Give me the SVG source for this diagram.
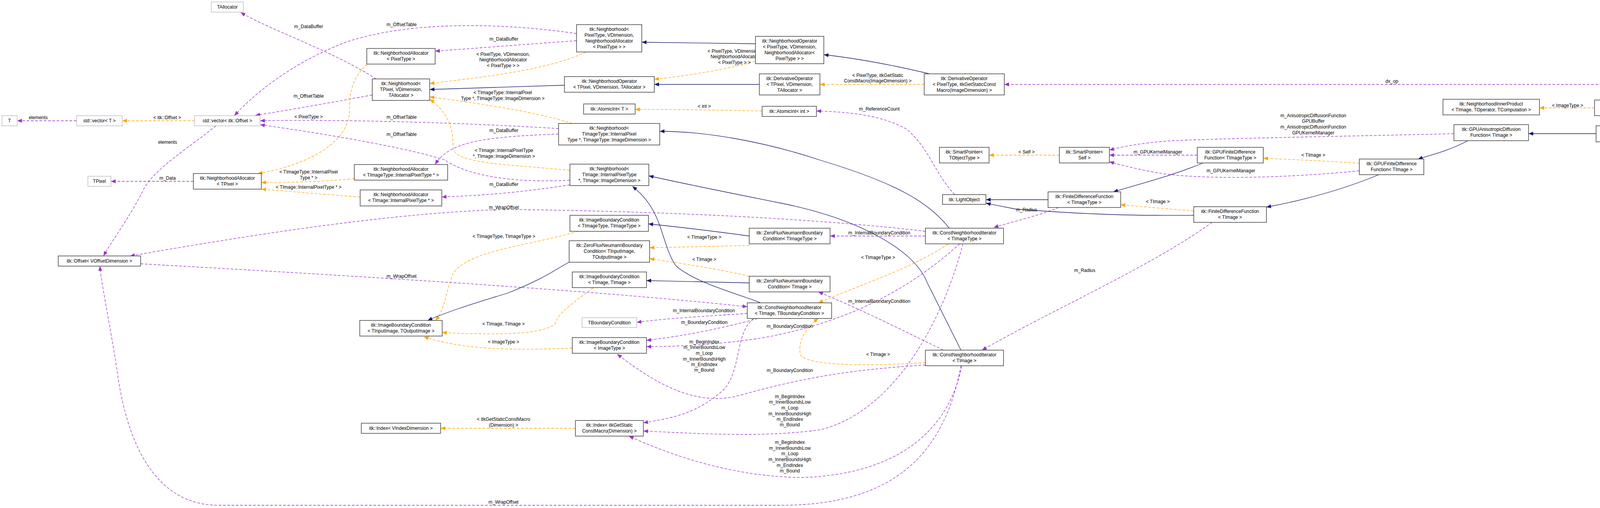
<svg xmlns="http://www.w3.org/2000/svg" width="4639" height="1300" viewBox="0 0 4639 1300">
<style>
text{font-family:"Liberation Sans",Arial,sans-serif;font-size:12px;fill:#000;text-anchor:middle}
.n rect{fill:#fff;stroke:#404040;stroke-width:1.5}
.g rect{fill:#fff;stroke:#bfbfbf;stroke-width:1.5}
.h rect{fill:#bfbfbf;stroke:#404040;stroke-width:1.5}
.e path{fill:none;stroke-width:1.3}
.u{stroke:#9a32cd;stroke-dasharray:7,4;marker-end:url(#mu)}
.t{stroke:#ffa500;stroke-dasharray:7,4;marker-end:url(#mt)}
.i{stroke:#191970;marker-end:url(#mi)}
</style>
<defs>
<marker id="mu" markerUnits="userSpaceOnUse" markerWidth="12" markerHeight="10" refX="12" refY="5" orient="auto"><path d="M0,0L12,5L0,10z" fill="#9a32cd"/></marker>
<marker id="mt" markerUnits="userSpaceOnUse" markerWidth="12" markerHeight="10" refX="12" refY="5" orient="auto"><path d="M0,0L12,5L0,10z" fill="#ffa500"/></marker>
<marker id="mi" markerUnits="userSpaceOnUse" markerWidth="12" markerHeight="10" refX="12" refY="5" orient="auto"><path d="M0,0L12,5L0,10z" fill="#191970"/></marker>
</defs>
<rect width="4639" height="1300" fill="#fff"/>
<g id="edges" class="e">
<path class="u" d="M963,202 C850,130 700,80 616,32"/>
<path class="u" d="M953,243 C850,262 750,280 654,295"/>
<path class="u" d="M1476,86 C1300,60 1050,50 880,110 C750,160 650,240 600,296"/>
<path class="u" d="M1476,104 L1114,131"/>
<path class="u" d="M1430,329 C1200,315 900,305 666,309"/>
<path class="u" d="M1459,461 C1300,470 1190,445 1140,410 C1050,380 850,345 666,319"/>
<path class="u" d="M1430,343 C1250,350 1150,360 1114,421"/>
<path class="u" d="M1459,473 C1350,490 1250,500 1131,504"/>
<path class="u" d="M495,464 L284,464"/>
<path class="u" d="M553,322 C480,380 400,430 370,480 C330,560 290,610 265,655"/>
<path class="u" d="M196,309 L44,309"/>
<path class="u" d="M2369,592 C2100,560 1700,540 1290,536 C1000,545 650,600 333,655"/>
<path class="u" d="M360,675 C800,700 1500,740 1913,785"/>
<path class="u" d="M2460,936 C2420,1150 2300,1293 2000,1293 L560,1293 C380,1293 320,1100 300,950 C280,820 258,720 256,681"/>
<path class="u" d="M2369,604 L2125,604"/>
<path class="u" d="M2415,896 C2300,840 2200,790 2095,747"/>
<path class="u" d="M1913,802 C1800,810 1700,815 1630,825"/>
<path class="u" d="M1940,815 C1850,840 1750,860 1655,871"/>
<path class="u" d="M2457,624 C2350,720 2200,820 1950,865 C1850,880 1750,887 1655,887"/>
<path class="u" d="M2369,934 C2200,945 2080,960 1900,1010 C1800,1040 1700,1000 1580,906"/>
<path class="u" d="M1930,815 C1880,850 1900,950 1850,1000 C1780,1060 1720,1070 1647,1082"/>
<path class="u" d="M2465,624 C2420,800 2300,1050 2100,1100 C1950,1120 1800,1110 1647,1103"/>
<path class="u" d="M2462,936 C2430,1100 2300,1215 2050,1222 C1900,1220 1750,1180 1610,1116"/>
<path class="u" d="M2444,498 C2390,440 2380,380 2320,330 C2250,290 2150,286 2090,284"/>
<path class="u" d="M2710,531 C2650,555 2600,565 2544,582"/>
<path class="u" d="M3103,569 C2950,680 2700,790 2514,896"/>
<path class="u" d="M3065,397 L2840,397"/>
<path class="u" d="M3480,437 C3300,455 3100,460 2980,445 C2920,435 2880,425 2840,414"/>
<path class="u" d="M3722,342 C3500,348 3200,352 3000,360 C2920,366 2880,374 2840,384"/>
<path class="u" d="M4470,256 C4420,235 4380,216 4300,216 L2571,216"/>
<path class="u" d="M4427,276 L4281,276"/>
<path class="t" d="M498,309 L313,309"/>
<path class="t" d="M940,164 C900,200 895,240 895,280 C895,360 800,420 660,444"/>
<path class="t" d="M907,457 C830,465 750,467 669,467"/>
<path class="t" d="M922,504 C830,498 750,490 669,484"/>
<path class="t" d="M1500,133 C1400,180 1250,195 1100,214"/>
<path class="t" d="M1465,316 C1350,280 1200,262 1100,248"/>
<path class="t" d="M1459,436 C1300,420 1170,420 1160,380 C1160,330 1150,290 1100,254"/>
<path class="t" d="M1934,157 C1850,180 1750,195 1675,203"/>
<path class="t" d="M2366,216 L2099,216"/>
<path class="t" d="M1951,284 C1850,282 1750,280 1626,280"/>
<path class="t" d="M2712,397 L2532,397"/>
<path class="t" d="M3480,418 C3400,412 3300,408 3234,405"/>
<path class="t" d="M3056,540 C3000,535 2930,530 2869,524"/>
<path class="t" d="M4082,276 L3941,276"/>
<path class="t" d="M1480,592 C1350,630 1200,640 1160,700 C1140,750 1140,790 1115,820"/>
<path class="t" d="M1519,736 C1460,780 1430,800 1420,830 C1380,860 1250,856 1132,851"/>
<path class="t" d="M1465,891 C1350,895 1200,900 1085,862"/>
<path class="t" d="M1918,628 C1850,630 1750,632 1663,634"/>
<path class="t" d="M1918,707 C1850,690 1750,675 1663,662"/>
<path class="t" d="M2427,624 C2350,680 2200,730 2095,775"/>
<path class="t" d="M2369,928 C2250,935 2080,940 2050,910 C2040,880 2060,840 2095,815"/>
<path class="t" d="M1473,1096 L1128,1096"/>
<path class="i" d="M1934,112 L1643,108"/>
<path class="i" d="M1445,218 L1100,229"/>
<path class="i" d="M1944,216 L1675,216"/>
<path class="i" d="M2380,189 C2300,170 2200,150 2109,140"/>
<path class="i" d="M2430,584 C2380,520 2300,470 2100,410 C1950,360 1800,336 1689,336"/>
<path class="i" d="M2460,896 L2372,720 C2340,640 2200,560 2000,520 C1850,490 1750,470 1661,450"/>
<path class="i" d="M1947,775 C1900,755 1780,725 1730,680 C1690,620 1700,540 1619,477"/>
<path class="i" d="M1918,724 C1850,722 1750,720 1655,718"/>
<path class="i" d="M1918,604 C1830,592 1750,582 1660,573"/>
<path class="i" d="M1457,671 C1420,690 1400,710 1300,750 C1200,780 1140,800 1095,820"/>
<path class="i" d="M2683,511 L2524,511"/>
<path class="i" d="M3056,551 C2900,552 2800,550 2600,535 L2524,520"/>
<path class="i" d="M3080,417 C3000,450 2920,470 2850,491"/>
<path class="i" d="M3530,447 C3450,480 3350,510 3242,530"/>
<path class="i" d="M3758,360 C3710,385 3670,395 3630,407"/>
<path class="i" d="M4086,342 L3913,342"/>
<path class="i" d="M4427,296 C4380,305 4330,312 4278,322"/>
</g>
<g id="labels">
<text x="98" y="305">elements</text>
<text x="428" y="305">&lt; itk::Offset &gt;</text>
<text x="429" y="368">elements</text>
<text x="429" y="460">m_Data</text>
<text x="790" y="72">m_DataBuffer</text>
<text x="790" y="250">m_OffsetTable</text>
<text x="790" y="303">&lt; PixelType &gt;</text>
<text x="790" y="444">&lt; TImageType::InternalPixel</text>
<text x="790" y="459">Type * &gt;</text>
<text x="790" y="483">&lt; TImage::InternalPixelType * &gt;</text>
<text x="1028" y="67">m_OffsetTable</text>
<text x="1290" y="104">m_DataBuffer</text>
<text x="1288" y="143">&lt; PixelType, VDimension,</text>
<text x="1288" y="157">NeighborhoodAllocator</text>
<text x="1288" y="172">&lt; PixelType &gt; &gt;</text>
<text x="1287" y="241">&lt; TImageType::InternalPixel</text>
<text x="1287" y="256">Type *, TImageType::ImageDimension &gt;</text>
<text x="1028" y="304">m_OffsetTable</text>
<text x="1290" y="338">m_DataBuffer</text>
<text x="1028" y="348">m_OffsetTable</text>
<text x="1290" y="389">&lt; TImage::InternalPixelType</text>
<text x="1290" y="404">*, TImage::ImageDimension &gt;</text>
<text x="1290" y="476">m_DataBuffer</text>
<text x="1290" y="535">m_WrapOffset</text>
<text x="1290" y="609">&lt; TImageType, TImageType &gt;</text>
<text x="1880" y="135">&lt; PixelType, VDimension,</text>
<text x="1880" y="149">NeighborhoodAllocator</text>
<text x="1880" y="164">&lt; PixelType &gt; &gt;</text>
<text x="2247" y="197">&lt; PixelType, itkGetStatic</text>
<text x="2247" y="211">ConstMacro(ImageDimension) &gt;</text>
<text x="1803" y="276">&lt; int &gt;</text>
<text x="2251" y="283">m_ReferenceCount</text>
<text x="2251" y="600">m_InternalBoundaryCondition</text>
<text x="1803" y="611">&lt; TImageType &gt;</text>
<text x="2628" y="393">&lt; Self &gt;</text>
<text x="2964" y="393">m_GPUKernelManager</text>
<text x="3151" y="441">m_GPUKernelManager</text>
<text x="3362" y="401">&lt; TImage &gt;</text>
<text x="2964" y="520">&lt; TImage &gt;</text>
<text x="2628" y="541">m_Radius</text>
<text x="3362" y="300">m_AnisotropicDiffusionFunction</text>
<text x="3362" y="314">GPUBuffer</text>
<text x="3362" y="329">m_AnisotropicDiffusionFunction</text>
<text x="3362" y="344">GPUKernelManager</text>
<text x="3563" y="212">dx_op</text>
<text x="4013" y="274">&lt; ImageType &gt;</text>
<text x="4355" y="274">m_InnerProduct</text>
<text x="1028" y="711">m_WrapOffset</text>
<text x="1289" y="833">&lt; TImage, TImage &gt;</text>
<text x="1289" y="879">&lt; ImageType &gt;</text>
<text x="1289" y="1077">&lt; itkGetStaticConstMacro</text>
<text x="1289" y="1092">(Dimension) &gt;</text>
<text x="1289" y="1289">m_WrapOffset</text>
<text x="1803" y="668">&lt; TImage &gt;</text>
<text x="2248" y="663">&lt; TImageType &gt;</text>
<text x="2251" y="775">m_InternalBoundaryCondition</text>
<text x="1802" y="799">m_InternalBoundaryCondition</text>
<text x="1803" y="829">m_BoundaryCondition</text>
<text x="2022" y="839">m_BoundaryCondition</text>
<text x="1803" y="879">m_BeginIndex</text><text x="1803" y="893">m_InnerBoundsLow</text><text x="1803" y="908">m_Loop</text><text x="1803" y="923">m_InnerBoundsHigh</text><text x="1803" y="937">m_EndIndex</text><text x="1803" y="951">m_Bound</text>
<text x="2248" y="911">&lt; TImage &gt;</text>
<text x="2022" y="952">m_BoundaryCondition</text>
<text x="2022" y="1019">m_BeginIndex</text><text x="2022" y="1033">m_InnerBoundsLow</text><text x="2022" y="1048">m_Loop</text><text x="2022" y="1063">m_InnerBoundsHigh</text><text x="2022" y="1077">m_EndIndex</text><text x="2022" y="1091">m_Bound</text>
<text x="2022" y="1136">m_BeginIndex</text><text x="2022" y="1151">m_InnerBoundsLow</text><text x="2022" y="1165">m_Loop</text><text x="2022" y="1180">m_InnerBoundsHigh</text><text x="2022" y="1195">m_EndIndex</text><text x="2022" y="1209">m_Bound</text>
<text x="2777" y="696">m_Radius</text>
</g>
<g id="n1" class="g"><rect x="541" y="5" width="82" height="26"/><text x="582" y="22">TAllocator</text></g>
<g id="n2" class="g"><rect x="5" y="296" width="39" height="26"/><text x="24.5" y="313">T</text></g>
<g id="n3" class="g"><rect x="196" y="296" width="117" height="26"/><text x="254.5" y="313">std::vector&lt; T &gt;</text></g>
<g id="n4" class="g"><rect x="498" y="296" width="168" height="26"/><text x="582" y="313">std::vector&lt; itk::Offset &gt;</text></g>
<g id="n5" class="g"><rect x="225" y="451" width="59" height="26"/><text x="254.5" y="468">TPixel</text></g>
<g id="n6" class="n"><rect x="495" y="444" width="174" height="40"/><text x="582" y="460">itk::NeighborhoodAllocator</text><text x="582" y="475">&lt; TPixel &gt;</text></g>
<g id="n7" class="n"><rect x="149" y="655" width="211" height="26"/><text x="254.5" y="672">itk::Offset&lt; VOffsetDimension &gt;</text></g>
<g id="n8" class="n"><rect x="1476" y="63" width="167" height="70"/><text x="1559.5" y="79">itk::Neighborhood&lt;</text><text x="1559.5" y="94">PixelType, VDimension,</text><text x="1559.5" y="109">NeighborhoodAllocator</text><text x="1559.5" y="124">&lt; PixelType &gt; &gt;</text></g>
<g id="n9" class="n"><rect x="939" y="124" width="175" height="40"/><text x="1026.5" y="140">itk::NeighborhoodAllocator</text><text x="1026.5" y="155">&lt; PixelType &gt;</text></g>
<g id="n10" class="n"><rect x="953" y="202" width="147" height="55"/><text x="1026.5" y="218">itk::Neighborhood&lt;</text><text x="1026.5" y="233">TPixel, VDimension,</text><text x="1026.5" y="248">TAllocator &gt;</text></g>
<g id="n11" class="n"><rect x="1445" y="196" width="230" height="40"/><text x="1560" y="212">itk::NeighborhoodOperator</text><text x="1560" y="227">&lt; TPixel, VDimension, TAllocator &gt;</text></g>
<g id="n12" class="n"><rect x="1494" y="266" width="132" height="26"/><text x="1560" y="283">itk::AtomicInt&lt; T &gt;</text></g>
<g id="n13" class="n"><rect x="1430" y="316" width="259" height="55"/><text x="1559.5" y="332">itk::Neighborhood&lt;</text><text x="1559.5" y="347">TImageType::InternalPixel</text><text x="1559.5" y="362">Type *, TImageType::ImageDimension &gt;</text></g>
<g id="n14" class="n"><rect x="1459" y="420" width="202" height="55"/><text x="1560" y="436">itk::Neighborhood&lt;</text><text x="1560" y="451">TImage::InternalPixelType</text><text x="1560" y="466">*, TImage::ImageDimension &gt;</text></g>
<g id="n15" class="n"><rect x="907" y="421" width="239" height="40"/><text x="1026.5" y="437">itk::NeighborhoodAllocator</text><text x="1026.5" y="452">&lt; TImageType::InternalPixelType * &gt;</text></g>
<g id="n16" class="n"><rect x="922" y="486" width="209" height="41"/><text x="1026.5" y="502">itk::NeighborhoodAllocator</text><text x="1026.5" y="517">&lt; TImage::InternalPixelType * &gt;</text></g>
<g id="n17" class="n"><rect x="1459" y="551" width="201" height="41"/><text x="1559.5" y="567">itk::ImageBoundaryCondition</text><text x="1559.5" y="582">&lt; TImageType, TImageType &gt;</text></g>
<g id="n18" class="n"><rect x="1457" y="616" width="206" height="55"/><text x="1560" y="632">itk::ZeroFluxNeumannBoundary</text><text x="1560" y="647">Condition&lt; TInputImage,</text><text x="1560" y="662">TOutputImage &gt;</text></g>
<g id="n19" class="n"><rect x="921" y="820" width="211" height="40"/><text x="1026.5" y="836">itk::ImageBoundaryCondition</text><text x="1026.5" y="851">&lt; TInputImage, TOutputImage &gt;</text></g>
<g id="n20" class="n"><rect x="1465" y="696" width="190" height="40"/><text x="1560" y="712">itk::ImageBoundaryCondition</text><text x="1560" y="727">&lt; TImage, TImage &gt;</text></g>
<g id="n21" class="g"><rect x="1490" y="813" width="140" height="25"/><text x="1560" y="830">TBoundaryCondition</text></g>
<g id="n22" class="n"><rect x="1465" y="864" width="190" height="40"/><text x="1560" y="880">itk::ImageBoundaryCondition</text><text x="1560" y="895">&lt; ImageType &gt;</text></g>
<g id="n23" class="n"><rect x="925" y="1083" width="203" height="26"/><text x="1026.5" y="1100">itk::Index&lt; VIndexDimension &gt;</text></g>
<g id="n24" class="n"><rect x="1473" y="1076" width="174" height="40"/><text x="1560" y="1092">itk::Index&lt; itkGetStatic</text><text x="1560" y="1107">ConstMacro(Dimension) &gt;</text></g>
<g id="n25" class="n"><rect x="1934" y="93" width="175" height="70"/><text x="2021.5" y="109">itk::NeighborhoodOperator</text><text x="2021.5" y="124">&lt; PixelType, VDimension,</text><text x="2021.5" y="139">NeighborhoodAllocator&lt;</text><text x="2021.5" y="154">PixelType &gt; &gt;</text></g>
<g id="n26" class="n"><rect x="1944" y="189" width="155" height="54"/><text x="2021.5" y="205">itk::DerivativeOperator</text><text x="2021.5" y="220">&lt; TPixel, VDimension,</text><text x="2021.5" y="235">TAllocator &gt;</text></g>
<g id="n27" class="n"><rect x="2366" y="189" width="205" height="54"/><text x="2468.5" y="205">itk::DerivativeOperator</text><text x="2468.5" y="220">&lt; PixelType, itkGetStaticConst</text><text x="2468.5" y="235">Macro(ImageDimension) &gt;</text></g>
<g id="n28" class="n"><rect x="1951" y="272" width="139" height="26"/><text x="2020.5" y="289">itk::AtomicInt&lt; int &gt;</text></g>
<g id="n29" class="n"><rect x="2405" y="377" width="127" height="40"/><text x="2468.5" y="393">itk::SmartPointer&lt;</text><text x="2468.5" y="408">TObjectType &gt;</text></g>
<g id="n30" class="n"><rect x="2413" y="498" width="111" height="25"/><text x="2468.5" y="515">itk::LightObject</text></g>
<g id="n31" class="n"><rect x="1918" y="584" width="207" height="40"/><text x="2021.5" y="600">itk::ZeroFluxNeumannBoundary</text><text x="2021.5" y="615">Condition&lt; TImageType &gt;</text></g>
<g id="n32" class="n"><rect x="2369" y="584" width="200" height="40"/><text x="2469" y="600">itk::ConstNeighborhoodIterator</text><text x="2469" y="615">&lt; TImageType &gt;</text></g>
<g id="n33" class="n"><rect x="1918" y="707" width="207" height="40"/><text x="2021.5" y="723">itk::ZeroFluxNeumannBoundary</text><text x="2021.5" y="738">Condition&lt; TImage &gt;</text></g>
<g id="n34" class="n"><rect x="1913" y="775" width="216" height="40"/><text x="2021" y="791">itk::ConstNeighborhoodIterator</text><text x="2021" y="806">&lt; TImage, TBoundaryCondition &gt;</text></g>
<g id="n35" class="n"><rect x="2369" y="896" width="200" height="40"/><text x="2469" y="912">itk::ConstNeighborhoodIterator</text><text x="2469" y="927">&lt; TImage &gt;</text></g>
<g id="n36" class="n"><rect x="2712" y="377" width="128" height="40"/><text x="2776" y="393">itk::SmartPointer&lt;</text><text x="2776" y="408">Self &gt;</text></g>
<g id="n37" class="n"><rect x="3065" y="377" width="169" height="40"/><text x="3149.5" y="393">itk::GPUFiniteDifference</text><text x="3149.5" y="408">Function&lt; TImageType &gt;</text></g>
<g id="n38" class="n"><rect x="2683" y="491" width="186" height="40"/><text x="2776" y="507">itk::FiniteDifferenceFunction</text><text x="2776" y="522">&lt; TImageType &gt;</text></g>
<g id="n39" class="n"><rect x="3056" y="529" width="186" height="40"/><text x="3149" y="545">itk::FiniteDifferenceFunction</text><text x="3149" y="560">&lt; TImage &gt;</text></g>
<g id="n40" class="n"><rect x="3694" y="254" width="247" height="40"/><text x="3817.5" y="270">itk::NeighborhoodInnerProduct</text><text x="3817.5" y="285">&lt; TImage, TOperator, TComputation &gt;</text></g>
<g id="n41" class="n"><rect x="3722" y="319" width="191" height="41"/><text x="3817.5" y="335">itk::GPUAnisotropicDiffusion</text><text x="3817.5" y="350">Function&lt; TImage &gt;</text></g>
<g id="n42" class="n"><rect x="3480" y="407" width="165" height="40"/><text x="3562.5" y="423">itk::GPUFiniteDifference</text><text x="3562.5" y="438">Function&lt; TImage &gt;</text></g>
<g id="n43" class="n"><rect x="4082" y="256" width="199" height="40"/><text x="4181.5" y="272">itk::NeighborhoodInnerProduct</text><text x="4181.5" y="287">&lt; ImageType &gt;</text></g>
<g id="n44" class="h"><rect x="4427" y="256" width="206" height="40"/><text x="4530" y="272">itk::GPUGradientNDAnisotropic</text><text x="4530" y="287">DiffusionFunction&lt; TImage &gt;</text></g>
<g id="n45" class="n"><rect x="4086" y="322" width="192" height="41"/><text x="4182" y="338">itk::GPUScalarAnisotropic</text><text x="4182" y="353">DiffusionFunction&lt; TImage &gt;</text></g>
</svg>
